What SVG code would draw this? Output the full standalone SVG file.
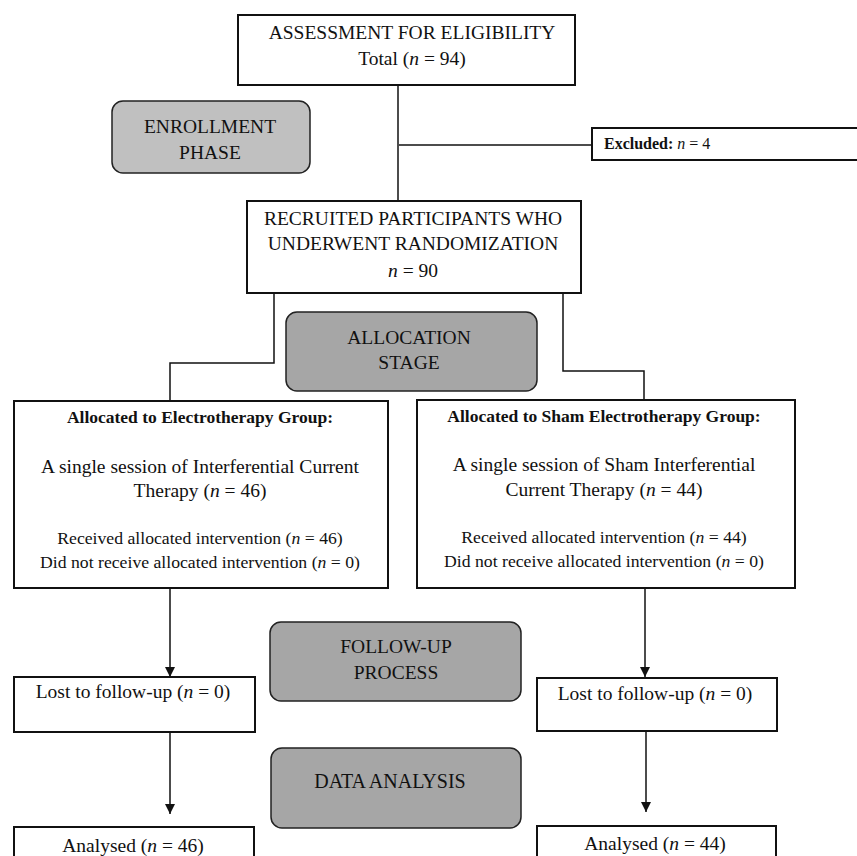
<svg xmlns="http://www.w3.org/2000/svg" width="857" height="856" viewBox="0 0 857 856">
<defs>
<style>
text{font-family:"Liberation Serif","Times New Roman",serif;fill:#111;text-anchor:middle;}
.box{fill:#fff;stroke:#111;stroke-width:2;}
.ph1{fill:#c0c0c0;stroke:#222;stroke-width:1.5;}
.ph2{fill:#a6a6a6;stroke:#222;stroke-width:1.5;}
.ln{fill:none;stroke:#111;stroke-width:1.5;}
.h{font-size:19.5px;}
.b{font-size:17.5px;font-weight:bold;}
.s{font-size:17.7px;}
.i{font-style:italic;}
</style>
<marker id="ah" viewBox="0 0 10 10" refX="10" refY="5" markerWidth="10" markerHeight="10" markerUnits="userSpaceOnUse" orient="auto">
<path d="M0,0 L10,5 L0,10 Z" fill="#111"/>
</marker>
</defs>
<rect width="857" height="856" fill="#fff"/>
<g id="connectors">
<path class="ln" d="M398,85 V201"/>
<path class="ln" d="M399,145 H592"/>
<path class="ln" d="M274,293 V363 H170 V401"/>
<path class="ln" d="M563,293 V371 H644 V400"/>
<path class="ln" d="M170,588 V677" marker-end="url(#ah)"/>
<path class="ln" d="M645,588 V677" marker-end="url(#ah)"/>
<path class="ln" d="M170,732 V814" marker-end="url(#ah)"/>
<path class="ln" d="M646,731 V812" marker-end="url(#ah)"/>
</g>
<g id="assessment">
<rect class="box" x="238" y="15" width="337" height="70"/>
<text class="h" x="412" y="39">ASSESSMENT FOR ELIGIBILITY</text>
<text class="h" x="412" y="65">Total (<tspan class="i">n</tspan> = 94)</text>
</g>
<g id="enrollment">
<rect class="ph1" x="112" y="101" width="198" height="72" rx="11"/>
<text class="h" x="210" y="133">ENROLLMENT</text>
<text class="h" x="210" y="159">PHASE</text>
</g>
<g id="excluded">
<rect class="box" x="592" y="128" width="270" height="32"/>
<text x="604" y="149" style="text-anchor:start;font-size:16px;"><tspan font-weight="bold">Excluded:</tspan> <tspan class="i">n</tspan> = 4</text>
</g>
<g id="recruited">
<rect class="box" x="247" y="201" width="334" height="92"/>
<text class="h" x="413" y="225">RECRUITED PARTICIPANTS WHO</text>
<text class="h" x="413" y="250">UNDERWENT RANDOMIZATION</text>
<text class="h" x="413" y="277"><tspan class="i">n</tspan> = 90</text>
</g>
<g id="allocation">
<rect class="ph2" x="286" y="312" width="251" height="79" rx="11"/>
<text class="h" x="409" y="344">ALLOCATION</text>
<text class="h" x="409" y="369">STAGE</text>
</g>
<g id="electro">
<rect class="box" x="14" y="401" width="374" height="187"/>
<text class="b" x="200" y="423">Allocated to Electrotherapy Group:</text>
<text class="h" x="200" y="473">A single session of Interferential Current</text>
<text class="h" x="200" y="497">Therapy (<tspan class="i">n</tspan> = 46)</text>
<text class="s" x="200" y="544">Received allocated intervention (<tspan class="i">n</tspan> = 46)</text>
<text class="s" x="200" y="568">Did not receive allocated intervention (<tspan class="i">n</tspan> = 0)</text>
</g>
<g id="sham">
<rect class="box" x="417" y="400" width="378" height="188"/>
<text class="b" x="604" y="422">Allocated to Sham Electrotherapy Group:</text>
<text class="h" x="604" y="471">A single session of Sham Interferential</text>
<text class="h" x="604" y="496">Current Therapy (<tspan class="i">n</tspan> = 44)</text>
<text class="s" x="604" y="543">Received allocated intervention (<tspan class="i">n</tspan> = 44)</text>
<text class="s" x="604" y="567">Did not receive allocated intervention (<tspan class="i">n</tspan> = 0)</text>
</g>
<g id="followup">
<rect class="ph2" x="270" y="622" width="251" height="79" rx="11"/>
<text class="h" x="396" y="653">FOLLOW-UP</text>
<text class="h" x="396" y="679">PROCESS</text>
</g>
<g id="lost-left">
<rect class="box" x="14" y="677" width="241" height="55"/>
<text class="h" x="133" y="698">Lost to follow-up (<tspan class="i">n</tspan> = 0)</text>
</g>
<g id="lost-right">
<rect class="box" x="537" y="678" width="240" height="53"/>
<text class="h" x="655" y="700">Lost to follow-up (<tspan class="i">n</tspan> = 0)</text>
</g>
<g id="analysis">
<rect class="ph2" x="271" y="748" width="250" height="80" rx="11"/>
<text x="390" y="788" style="font-size:20px;">DATA ANALYSIS</text>
</g>
<g id="analysed-left">
<rect class="box" x="14" y="827" width="240" height="40"/>
<text class="h" x="133" y="852">Analysed (<tspan class="i">n</tspan> = 46)</text>
</g>
<g id="analysed-right">
<rect class="box" x="537" y="826" width="239" height="40"/>
<text class="h" x="655" y="850">Analysed (<tspan class="i">n</tspan> = 44)</text>
</g>
</svg>
